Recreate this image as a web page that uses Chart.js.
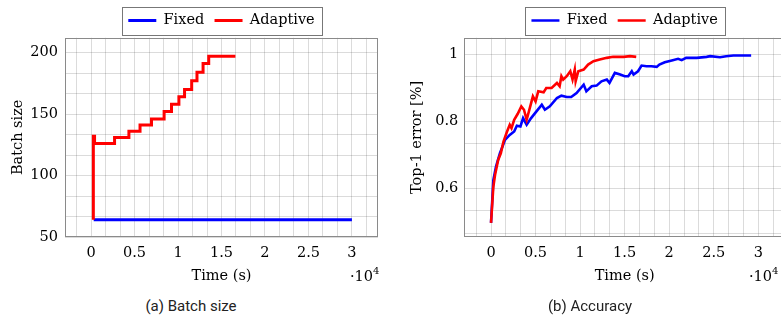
<!DOCTYPE html>
<html>
<head>
<meta charset="utf-8">
<script src="https://cdn.jsdelivr.net/npm/chart.js@4.4.1/dist/chart.umd.min.js"></script>
<style>
  body { margin: 0; width: 781px; height: 320px; overflow: hidden; background: #fff; position: relative; }
  canvas { position: absolute; top: 0; }
  .exp { position: absolute; font-family: 'DejaVu Serif', serif; font-size: 14.5px; color: #000; line-height: 1; }
  .exp sup { font-size: 10px; position: relative; top: -1px; }
  .cap { position: absolute; top: 297px; font-family: Roboto, 'Noto Sans', sans-serif; font-size: 15px; color: #222; text-align: center; }
</style>
</head>
<body>
<canvas id="batchChart" width="378" height="290" style="left:0px"></canvas>
<canvas id="accChart" width="390" height="290" style="left:395px"></canvas>
<div class="exp" style="left:350px; top:267px">&middot;10<sup>4</sup></div>
<div class="exp" style="left:749px; top:267px">&middot;10<sup>4</sup></div>
<div class="cap" style="left:91px; width:200px">(a) Batch size</div>
<div class="cap" style="left:490px; width:200px">(b) Accuracy</div>
<script>
// (a) batch size vs time (s)
var batchFixedTime = [300, 30000];
var batchFixedSize = [64, 64];
var batchAdaptiveTime = [260, 260, 400, 2700, 4350, 5630, 6950, 8400, 9250, 10100, 10750, 11570, 12180, 12880, 13530, 16600];
var batchAdaptiveSize = [64, 132, 126, 131, 136, 141, 146, 152, 158, 164, 170, 177, 184, 191, 197, 197];

// (b) accuracy vs time (s)
var accFixedTime = [0, 260, 560, 1000, 1570, 2100, 2600, 2900, 3300, 3600, 4000, 4500, 5100, 5700, 6050, 6600, 7400, 7900, 8500, 9000, 9600, 10400, 10700, 11300, 11850, 12400, 13000, 13300, 13900, 14500, 15000, 15400, 15800, 16000, 16500, 16900, 17450, 18000, 18600, 18900, 19500, 20400, 21000, 21400, 21900, 23100, 24200, 24600, 25700, 26400, 27200, 28000, 29200];
var accFixedVal = [0.497, 0.625, 0.665, 0.705, 0.745, 0.76, 0.77, 0.787, 0.785, 0.81, 0.79, 0.81, 0.83, 0.85, 0.835, 0.845, 0.87, 0.877, 0.873, 0.873, 0.885, 0.91, 0.89, 0.905, 0.907, 0.92, 0.925, 0.915, 0.945, 0.94, 0.935, 0.935, 0.95, 0.94, 0.95, 0.967, 0.965, 0.965, 0.963, 0.97, 0.977, 0.983, 0.987, 0.983, 0.99, 0.99, 0.993, 0.995, 0.992, 0.995, 0.997, 0.997, 0.997];
var accAdaptiveTime = [0, 260, 450, 800, 1100, 1400, 1800, 2100, 2300, 2600, 3000, 3400, 3700, 4000, 4500, 4700, 5000, 5300, 5900, 6200, 6800, 7400, 7700, 7900, 8100, 8500, 8900, 9150, 9400, 9500, 9800, 10400, 10900, 11500, 12200, 13000, 13700, 14900, 15600, 16300];
var accAdaptiveVal = [0.497, 0.605, 0.64, 0.685, 0.705, 0.74, 0.77, 0.79, 0.78, 0.805, 0.823, 0.845, 0.835, 0.805, 0.855, 0.875, 0.86, 0.89, 0.887, 0.9, 0.9, 0.915, 0.905, 0.935, 0.925, 0.935, 0.95, 0.925, 0.955, 0.92, 0.95, 0.955, 0.97, 0.98, 0.985, 0.99, 0.993, 0.993, 0.995, 0.993];

var FONT = 'DejaVu Serif';
var GRID = 'rgba(0,0,0,0.14)';

function points(xs, ys) {
    return xs.map(function(x, i) { return {x: x, y: ys[i]}; });
}

function isMajor(v, major) {
    var r = v / major;
    return Math.abs(r - Math.round(r)) < 1e-6;
}

// grid lines every third of a major step, labels only on majors
function minorTicks(scale, step) {
    var out = [];
    var k = Math.ceil(scale.min / step - 1e-9);
    for (; k * step <= scale.max + 1e-9; k++) {
        out.push({value: k * step});
    }
    scale.ticks = out;
}

var framePlugin = {
    id: 'frame',
    afterDraw: function(chart) {
        var ctx = chart.ctx;
        var a = chart.chartArea;
        ctx.save();
        ctx.strokeStyle = '#8a8a8a';
        ctx.lineWidth = 1;
        ctx.strokeRect(Math.round(a.left) + 0.5, Math.round(a.top) + 0.5,
            Math.round(a.right - a.left) - 1, Math.round(a.bottom - a.top) - 1);
        var boxes = chart.legend && chart.legend.legendHitBoxes;
        if (boxes && boxes.length) {
            var l = Math.min.apply(null, boxes.map(function(b) { return b.left; }));
            var r = Math.max.apply(null, boxes.map(function(b) { return b.left + b.width; }));
            var t = boxes[0].top, h = boxes[0].height;
            ctx.strokeStyle = '#777';
            ctx.strokeRect(Math.round(l - 6) + 0.5, Math.round(t - 6) + 0.5, Math.round(r - l + 14), Math.round(h + 13));
        }
        ctx.restore();
    }
};

function makeChart(id, fixedPts, adaptivePts, lineW, yOpts) {
    var ctx = document.getElementById(id).getContext('2d');
    return new Chart(ctx, {
        type: 'line',
        data: {
            datasets: [{
                label: 'Fixed',
                data: fixedPts,
                borderColor: '#0000ff',
                borderWidth: lineW,
                order: 1
            }, {
                label: 'Adaptive',
                data: adaptivePts,
                borderColor: '#ff0000',
                borderWidth: lineW,
                stepped: yOpts.stepped,
                order: 0
            }]
        },
        options: {
            responsive: false,
            animation: false,
            events: [],
            layout: { padding: { top: 3, left: 0, right: 0, bottom: 0 } },
            elements: { point: { radius: 0 }, line: { tension: 0, fill: false } },
            scales: {
                x: {
                    type: 'linear',
                    min: -3000,
                    max: 33000,
                    afterBuildTicks: function(s) { minorTicks(s, 5000 / 3); },
                    afterFit: function(s) { s.height = 53; },
                    grid: { color: GRID, drawTicks: false },
                    border: { display: false },
                    ticks: {
                        autoSkip: false,
                        maxRotation: 0,
                        padding: 8,
                        color: '#000',
                        font: { family: FONT, size: 14.5 },
                        callback: function(v) {
                            return isMajor(v, 5000) ? String(Math.round(v / 5000) / 2) : '';
                        }
                    },
                    title: {
                        display: true,
                        text: 'Time (s)',
                        color: '#000',
                        font: { family: FONT, size: 14.5 },
                        padding: { top: 0, bottom: 5 }
                    }
                },
                y: {
                    type: 'linear',
                    min: yOpts.min,
                    max: yOpts.max,
                    afterBuildTicks: function(s) { minorTicks(s, yOpts.major / 3); },
                    afterFit: function(s) { s.width = yOpts.width; },
                    grid: { color: GRID, drawTicks: false },
                    border: { display: false },
                    ticks: {
                        autoSkip: false,
                        padding: yOpts.tickPad,
                        color: '#000',
                        font: { family: FONT, size: 14.5 },
                        callback: function(v) {
                            return isMajor(v, yOpts.major) ? yOpts.fmt(v) : '';
                        }
                    },
                    title: {
                        display: true,
                        text: yOpts.title,
                        color: '#000',
                        font: { family: FONT, size: 14.5 },
                        padding: { top: yOpts.titlePad, bottom: 0 }
                    }
                }
            },
            plugins: {
                tooltip: { enabled: false },
                legend: {
                    display: true,
                    position: 'top',
                    fullSize: false,
                    labels: {
                        usePointStyle: true,
                        pointStyle: 'line',
                        pointStyleWidth: 28,
                        padding: 10.25,
                        color: '#000',
                        font: { family: FONT, size: 14.5 },
                        sort: function(a, b) { return a.datasetIndex - b.datasetIndex; }
                    }
                }
            }
        },
        plugins: [framePlugin]
    });
}

makeChart('batchChart',
    points(batchFixedTime, batchFixedSize),
    points(batchAdaptiveTime, batchAdaptiveSize),
    3,
    { min: 50, max: 212, major: 50, width: 65, tickPad: 7, titlePad: 9.3, title: 'Batch size', stepped: 'before',
      fmt: function(v) { return String(Math.round(v)); } });

makeChart('accChart',
    points(accFixedTime, accFixedVal),
    points(accAdaptiveTime, accAdaptiveVal),
    2.6,
    { min: 0.455, max: 1.05, major: 0.2, width: 69.3, tickPad: 6, titlePad: 13.3, title: 'Top-1 error [%]', stepped: false,
      fmt: function(v) { return String(Math.round(v * 10) / 10); } });
</script>
</body>
</html>
